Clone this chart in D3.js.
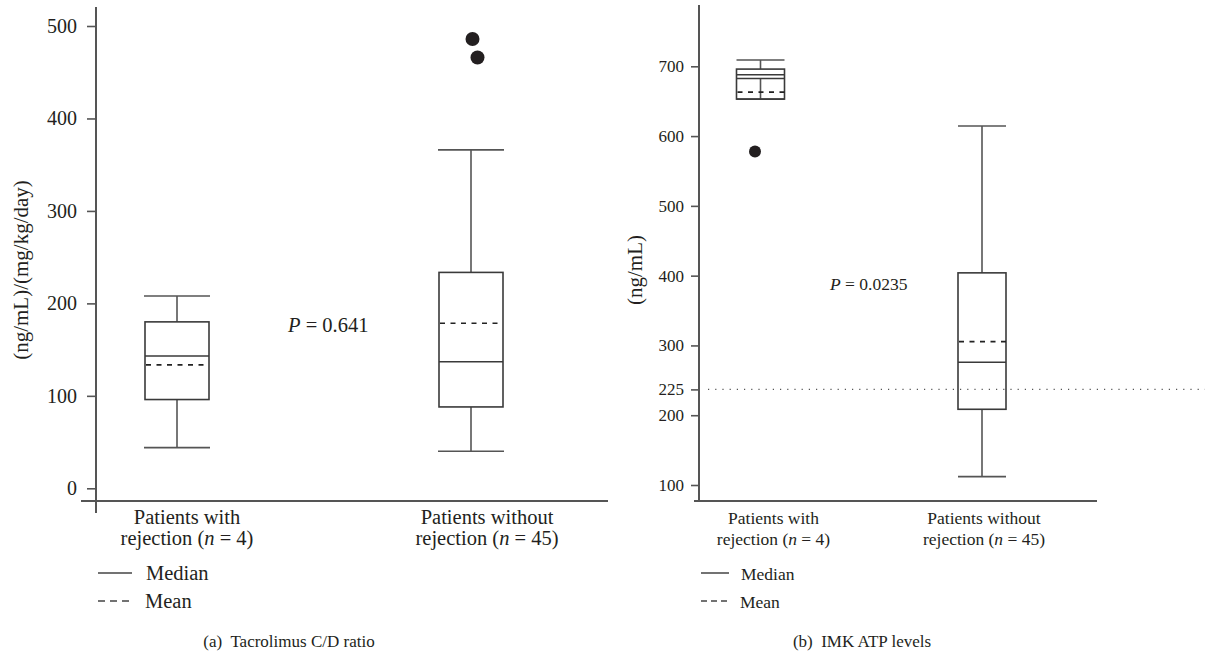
<!DOCTYPE html>
<html>
<head>
<meta charset="utf-8">
<script src="https://cdn.jsdelivr.net/npm/d3@7"></script>
<style>
  body { margin: 0; background: #fff; }
  svg { display: block; }
  text { font-family: "Liberation Serif", "Times New Roman", serif; fill: #231f20; }
</style>
</head>
<body>
<script>
// categories
var catLine1 = ['Patients with', 'Patients without'];
var catN = [4, 45];

// (a) Tacrolimus C/D ratio
var ratioLo = [44, 40];
var ratioQ1 = [96, 88];
var ratioMedian = [143, 137];
var ratioQ3 = [180, 233.5];
var ratioHi = [208, 366];
var ratioMean = [133.5, 178.5];
var ratioOutliers = [[], [486, 466]];
var ratioTicks = [0, 100, 200, 300, 400, 500];

// (b) IMK ATP levels
var atpLo = [653, 112];
var atpQ1 = [653, 208.5];
var atpMedian = [688, 276];
var atpQ3 = [696, 404];
var atpHi = [709, 614.5];
var atpMean = [663, 305.5];
var atpInner = [682.5, null];
var atpOutliers = [[578], []];
var atpTicks = [100, 200, 237, 300, 400, 500, 600, 700];
var atpTickLabels = ['100', '200', '225', '300', '400', '500', '600', '700'];
var atpCutoff = 237;

var w = 1208, h = 657;
var ink = '#3a3a3a';

var svg = d3.select('body').append('svg')
  .attr('width', w)
  .attr('height', h);

function boxes(lo, q1, med, q3, hi, mean, outs, inner) {
  return catLine1.map(function (c, i) {
    return { i: i, lo: lo[i], q1: q1[i], med: med[i], q3: q3[i], hi: hi[i],
      mean: mean[i], outs: outs[i], inner: inner ? inner[i] : null };
  });
}

function drawPanel(p) {
  var g = svg.append('g');
  var y = d3.scaleLinear().domain(p.yDomain).range(p.yRange);
  var x = d3.scalePoint().domain(d3.range(catLine1.length)).range(p.catRange);

  // axes
  var ax = d3.axisLeft(y)
    .tickValues(p.ticks)
    .tickSize(p.tickSize)
    .tickPadding(p.tickPad)
    .tickFormat(function (d, i) { return p.tickLabels ? p.tickLabels[i] : d; });
  var ag = g.append('g')
    .attr('transform', 'translate(' + p.axisX + ',0)')
    .call(ax);
  ag.select('.domain').remove();
  ag.selectAll('.tick line').attr('stroke', '#555').attr('stroke-width', 1.6);
  ag.selectAll('.tick text')
    .attr('font-family', '"Liberation Serif", serif')
    .attr('font-size', p.tickFont).attr('fill', '#231f20');

  g.append('line')
    .attr('x1', p.axisX).attr('x2', p.axisX)
    .attr('y1', p.axisTop).attr('y2', p.axisBottom)
    .attr('stroke', '#555').attr('stroke-width', 2);
  g.append('line')
    .attr('x1', p.xLeft).attr('x2', p.xRight)
    .attr('y1', p.baseY).attr('y2', p.baseY)
    .attr('stroke', '#555').attr('stroke-width', 2);

  // cutoff line
  if (p.cutoff != null) {
    g.append('line')
      .attr('x1', p.axisX + 9).attr('x2', w - 3)
      .attr('y1', y(p.cutoff)).attr('y2', y(p.cutoff))
      .attr('stroke', '#555').attr('stroke-width', 1.1)
      .attr('stroke-dasharray', '1.2,6');
  }

  var data = p.data;
  var bw = p.boxW, cw = p.capW;
  var bg = g.selectAll('g.box').data(data).enter().append('g').attr('class', 'box');

  // whiskers
  bg.append('line')
    .attr('x1', function (d) { return x(d.i); }).attr('x2', function (d) { return x(d.i); })
    .attr('y1', function (d) { return y(d.q3); }).attr('y2', function (d) { return y(d.hi); })
    .attr('stroke', '#555').attr('stroke-width', 1.6);
  bg.append('line')
    .attr('x1', function (d) { return x(d.i); }).attr('x2', function (d) { return x(d.i); })
    .attr('y1', function (d) { return y(d.inner != null ? d.inner : d.q1); })
    .attr('y2', function (d) { return y(d.lo); })
    .attr('stroke', '#555').attr('stroke-width', 1.6);
  ['hi', 'lo'].forEach(function (k) {
    bg.append('line')
      .attr('x1', function (d) { return x(d.i) - cw / 2; })
      .attr('x2', function (d) { return x(d.i) + cw / 2; })
      .attr('y1', function (d) { return y(d[k]); }).attr('y2', function (d) { return y(d[k]); })
      .attr('stroke', '#555').attr('stroke-width', 1.6);
  });

  // box
  bg.append('rect')
    .attr('x', function (d) { return x(d.i) - bw / 2; })
    .attr('y', function (d) { return y(d.q3); })
    .attr('width', bw)
    .attr('height', function (d) { return y(d.q1) - y(d.q3); })
    .attr('fill', 'none').attr('stroke', ink).attr('stroke-width', 1.6);
  bg.append('line')
    .attr('x1', function (d) { return x(d.i) - bw / 2; })
    .attr('x2', function (d) { return x(d.i) + bw / 2; })
    .attr('y1', function (d) { return y(d.med); }).attr('y2', function (d) { return y(d.med); })
    .attr('stroke', ink).attr('stroke-width', 1.5);
  bg.filter(function (d) { return d.inner != null; }).append('line')
    .attr('x1', function (d) { return x(d.i) - bw / 2; })
    .attr('x2', function (d) { return x(d.i) + bw / 2; })
    .attr('y1', function (d) { return y(d.inner); }).attr('y2', function (d) { return y(d.inner); })
    .attr('stroke', ink).attr('stroke-width', 1.5);
  bg.append('line')
    .attr('x1', function (d) { return x(d.i) - bw / 2 + 1; })
    .attr('x2', function (d) { return x(d.i) + bw / 2; })
    .attr('y1', function (d) { return y(d.mean); }).attr('y2', function (d) { return y(d.mean); })
    .attr('stroke', '#222').attr('stroke-width', 1.6)
    .attr('stroke-dasharray', '5,5.5');

  // outliers
  data.forEach(function (d) {
    d.outs.forEach(function (v, j) {
      g.append('circle')
        .attr('cx', x(d.i) + p.jitter[d.i][j])
        .attr('cy', y(v))
        .attr('r', p.dotR)
        .attr('fill', '#231f20');
    });
  });

  // category labels
  catLine1.forEach(function (c, i) {
    var cx = x(i) + p.labelDx[i];
    g.append('text').attr('x', cx).attr('y', 524)
      .attr('text-anchor', 'middle').attr('font-size', p.font).text(c);
    var t = g.append('text').attr('x', cx).attr('y', 545)
      .attr('text-anchor', 'middle').attr('font-size', p.font);
    t.append('tspan').text('rejection (');
    t.append('tspan').attr('font-style', 'italic').text('n');
    t.append('tspan').text(' = ' + catN[i] + ')');
  });

  // p value
  var pt = g.append('text').attr('x', p.pX).attr('y', p.pY).attr('font-size', p.font);
  pt.append('tspan').attr('font-style', 'italic').text('P');
  pt.append('tspan').text(' = ' + p.pText);

  // y title
  g.append('text')
    .attr('transform', 'translate(' + p.titleX + ',270) rotate(-90)')
    .attr('text-anchor', 'middle').attr('dominant-baseline', 'central')
    .attr('font-size', p.titleFont).text(p.title);

  // legend
  g.append('line').attr('x1', p.legX).attr('x2', p.legX + p.legLen)
    .attr('y1', 573).attr('y2', 573).attr('stroke', '#444').attr('stroke-width', 1.5);
  g.append('line').attr('x1', p.legX).attr('x2', p.legX + p.legLen)
    .attr('y1', 601).attr('y2', 601).attr('stroke', '#444').attr('stroke-width', 1.5)
    .attr('stroke-dasharray', p.legDash);
  g.append('text').attr('x', p.legTextX).attr('y', 580).attr('font-size', p.font).text('Median');
  g.append('text').attr('x', p.legTextX - 1).attr('y', 608).attr('font-size', p.font).text('Mean');

  // caption
  var cap = g.append('text').attr('x', p.capX).attr('y', 647)
    .attr('text-anchor', 'middle').attr('font-size', 17).attr('xml:space', 'preserve');
  cap.text(p.caption);
}

drawPanel({
  data: boxes(ratioLo, ratioQ1, ratioMedian, ratioQ3, ratioHi, ratioMean, ratioOutliers),
  yDomain: [0, 500], yRange: [488.3, 26], ticks: ratioTicks,
  tickSize: 9, tickPad: 10, tickFont: 20,
  axisX: 96, axisTop: 7, axisBottom: 513, baseY: 501, xLeft: 81, xRight: 608,
  catRange: [177, 471], boxW: 64, capW: 66, dotR: 7,
  jitter: [[], [1.5, 6.5]], labelDx: [10, 16],
  font: 20.5, pX: 288, pY: 332, pText: '0.641',
  title: '(ng/mL)/(mg/kg/day)', titleX: 21, titleFont: 21,
  legX: 98, legLen: 34, legTextX: 146, legDash: '7,5',
  capX: 289, caption: '(a)  Tacrolimus C/D ratio'
});

drawPanel({
  data: boxes(atpLo, atpQ1, atpMedian, atpQ3, atpHi, atpMean, atpOutliers, atpInner),
  yDomain: [100, 700], yRange: [485, 66.3], ticks: atpTicks, tickLabels: atpTickLabels,
  tickSize: 8, tickPad: 7, tickFont: 17,
  axisX: 699, axisTop: 5, axisBottom: 501, baseY: 501, xLeft: 694, xRight: 1097,
  catRange: [760.5, 982], boxW: 48, capW: 48, dotR: 6,
  jitter: [[-5.5], []], labelDx: [13, 2],
  font: 17.5, pX: 830, pY: 290, pText: '0.0235', cutoff: atpCutoff,
  title: '(ng/mL)', titleX: 635, titleFont: 21,
  legX: 701, legLen: 28, legTextX: 741, legDash: '6,4',
  capX: 862, caption: '(b)  IMK ATP levels'
});
</script>
</body>
</html>
